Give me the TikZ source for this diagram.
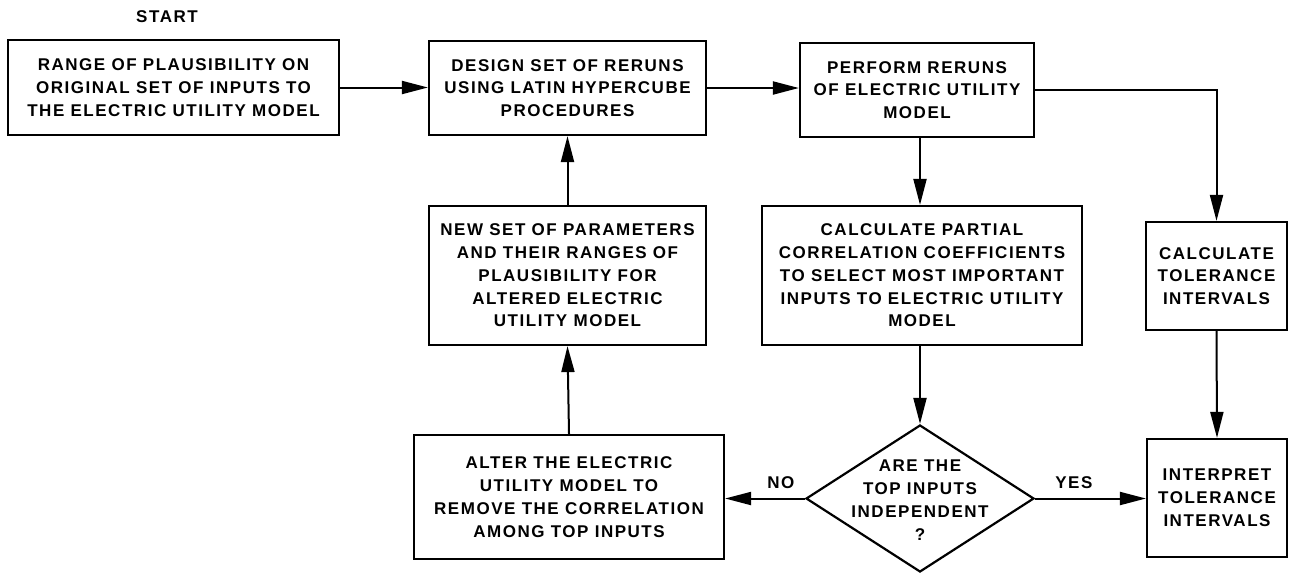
\documentclass[tikz,border=0pt]{standalone}
\usepackage{fontspec}
\setmainfont{Liberation Sans}[LetterSpace=9]
\usetikzlibrary{arrows.meta,shapes.geometric}
\newcommand{\flowfont}{\fontsize{17}{22.8}\selectfont\bfseries}
\tikzset{
  flowbox/.style={draw, line width=2.2pt, align=center, inner sep=0pt, font=\flowfont, text=black},
  flowtext/.style={align=center, inner sep=0pt, font=\flowfont},
  flowarrow/.style={line width=2pt, -{Triangle[length=26pt,width=13pt]}},
}
\begin{document}
\begin{tikzpicture}[x=1pt,y=-1pt]
\useasboundingbox (0,0) rectangle (1290,574);
\node[flowtext] (start) at (167,17) {START};
\node[flowbox, minimum width=331pt, minimum height=95pt] (range) at (173.5,87.5)
  {RANGE OF PLAUSIBILITY ON\\ORIGINAL SET OF INPUTS TO\\THE ELECTRIC UTILITY MODEL};
\node[flowbox, minimum width=277pt, minimum height=94pt] (design) at (567.5,88)
  {DESIGN SET OF RERUNS\\USING LATIN HYPERCUBE\\PROCEDURES};
\node[flowbox, minimum width=234pt, minimum height=94pt] (perform) at (917,90)
  {PERFORM RERUNS\\OF ELECTRIC UTILITY\\MODEL};
\node[flowbox, minimum width=277pt, minimum height=139pt] (newset) at (567.5,275.5)
  {NEW SET OF PARAMETERS\\AND THEIR RANGES OF\\PLAUSIBILITY FOR\\ALTERED ELECTRIC\\UTILITY MODEL};
\node[flowbox, minimum width=320pt, minimum height=139pt] (partial) at (922,275.5)
  {CALCULATE PARTIAL\\CORRELATION COEFFICIENTS\\TO SELECT MOST IMPORTANT\\INPUTS TO ELECTRIC UTILITY\\MODEL};
\node[flowbox, minimum width=141pt, minimum height=108pt] (calctol) at (1216.5,276)
  {CALCULATE\\TOLERANCE\\INTERVALS};
\node[flowbox, minimum width=310pt, minimum height=124pt] (alter) at (569,497)
  {ALTER THE ELECTRIC\\UTILITY MODEL TO\\REMOVE THE CORRELATION\\AMONG TOP INPUTS};
\node[draw, line width=2.2pt, shape=diamond, inner sep=0pt, minimum width=228pt, minimum height=147pt] (dec) at (920,498.5) {};
\node[flowtext] (dectext) at (920,500) {ARE THE\\TOP INPUTS\\INDEPENDENT\\?};
\node[flowbox, minimum width=140pt, minimum height=118pt] (interp) at (1217,498)
  {INTERPRET\\TOLERANCE\\INTERVALS};
\draw[flowarrow] (range.east) -- (range.east -| design.west);
\draw[flowarrow] (design.east) -- (design.east -| perform.west);
\draw[flowarrow] (perform.east) -| (calctol.north);
\draw[flowarrow] (perform.south -| dec.north) -- (partial.north -| dec.north);
\draw[flowarrow] (partial.south -| dec.north) -- (dec.north);
\draw[flowarrow] (calctol.south) -- (interp.north);
\draw[flowarrow] (dec.east) -- node[flowtext, above=9pt, pos=0.35] (yes) {YES} (dec.east -| interp.west);
\draw[flowarrow] (dec.west) -- node[flowtext, above=9pt, pos=0.3] (no) {NO} (dec.west -| alter.east);
\draw[flowarrow] (alter.north) -- (newset.south);
\draw[flowarrow] (newset.north) -- (design.south);
\end{tikzpicture}
\end{document}
